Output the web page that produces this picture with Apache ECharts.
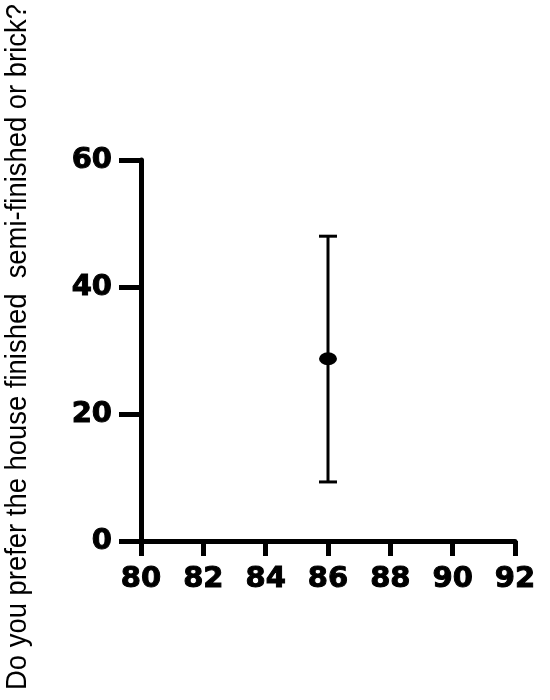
<!DOCTYPE html>
<html><head><meta charset="utf-8">
<script src="https://cdn.jsdelivr.net/npm/echarts@6/dist/echarts.min.js"></script>
<style>html,body{margin:0;padding:0;background:#fff}#c{width:550px;height:700px}</style>
</head><body><div id="c"></div>
<script>
var xValues = [86];
var meanValues = [28.7];
var lowValues = [9.3];
var highValues = [48.0];
var xTicks = [80, 82, 84, 86, 88, 90, 92];
var yTicks = [0, 20, 40, 60];
var yTitle = 'Do you prefer the house finished  semi-finished or brick?';

var titleFont = '29px "Liberation Sans", Arial, sans-serif';
var cv = document.createElement('canvas').getContext('2d');
cv.font = titleFont;
var titleW = cv.measureText(yTitle).width;
var titleScale = 686 / titleW;

var chart = echarts.init(document.getElementById('c'), null, {renderer: 'canvas'});
var labelFont = {color: '#000', fontFamily: 'DejaVu Sans', fontWeight: 'bold', fontSize: 29,
  textBorderColor: '#000', textBorderWidth: 1};
chart.setOption({
  animation: false,
  backgroundColor: '#fff',
  grid: {left: 141, right: 35, top: 160, bottom: 159, containLabel: false, outerBoundsMode: 'none'},
  xAxis: {
    type: 'value', min: xTicks[0], max: xTicks[xTicks.length - 1], interval: 2,
    axisLine: {show: true, lineStyle: {color: '#000', width: 5}},
    axisTick: {show: true, length: 15, lineStyle: {color: '#000', width: 5}},
    axisLabel: Object.assign({margin: 24}, labelFont),
    splitLine: {show: false}
  },
  yAxis: {
    type: 'value', min: yTicks[0], max: yTicks[yTicks.length - 1], interval: 20,
    axisLine: {show: true, lineStyle: {color: '#000', width: 5}},
    axisTick: {show: true, length: 22, lineStyle: {color: '#000', width: 5}},
    axisLabel: Object.assign({margin: 29}, labelFont),
    splitLine: {show: false}
  },
  graphic: [{
    type: 'text',
    x: 18, y: 347,
    rotation: Math.PI / 2,
    scaleX: titleScale,
    style: {text: yTitle, font: titleFont, fill: '#000', align: 'center', verticalAlign: 'middle'}
  }],
  series: [
    {
      type: 'custom',
      data: xValues.map(function (x, i) { return [x, lowValues[i], highValues[i]]; }),
      renderItem: function (params, api) {
        var lo = api.coord([api.value(0), api.value(1)]);
        var hi = api.coord([api.value(0), api.value(2)]);
        var hw = 9;
        var st = {stroke: '#000', lineWidth: 3};
        return {type: 'group', children: [
          {type: 'line', shape: {x1: lo[0], y1: lo[1], x2: hi[0], y2: hi[1]}, style: st},
          {type: 'line', shape: {x1: lo[0] - hw, y1: lo[1], x2: lo[0] + hw, y2: lo[1]}, style: st},
          {type: 'line', shape: {x1: hi[0] - hw, y1: hi[1], x2: hi[0] + hw, y2: hi[1]}, style: st}
        ]};
      },
      z: 2
    },
    {
      type: 'scatter',
      data: xValues.map(function (x, i) { return [x, meanValues[i]]; }),
      symbol: 'circle', symbolSize: [18, 13],
      itemStyle: {color: '#000', opacity: 1},
      z: 3
    }
  ]
});
</script></body></html>
